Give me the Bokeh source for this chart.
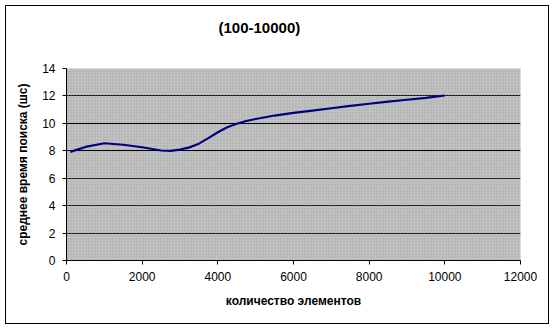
from bokeh.plotting import figure
from bokeh.models import Range1d, FixedTicker, BoxAnnotation, Title, InlineStyleSheet
from bokeh.embed import file_html
from bokeh.resources import INLINE

# data
elements = [100, 500, 1000, 1500, 2000, 2500, 2750, 3000, 3250, 3500, 3750, 4000,
            4250, 4500, 4750, 5000, 5500, 6000, 6500, 7000, 7500, 8000, 8500,
            9000, 9500, 10000]
avg_time = [7.92, 8.28, 8.55, 8.44, 8.26, 8.02, 8.0, 8.08, 8.25, 8.52, 8.92, 9.35,
            9.72, 9.97, 10.17, 10.32, 10.57, 10.76, 10.93, 11.1, 11.27, 11.43, 11.58,
            11.72, 11.86, 12.03]
x_ticks = [0, 2000, 4000, 6000, 8000, 10000, 12000]
y_ticks = [0, 2, 4, 6, 8, 10, 12, 14]
grid_ticks = [2, 4, 6, 8, 10, 12]
title_text = "(100-10000)"

FONT = "Liberation Sans"

p = figure(width=555, height=330, output_backend="svg", toolbar_location=None,
           x_range=Range1d(0, 12000), y_range=Range1d(0, 14),
           min_border_left=66, min_border_right=35, min_border_top=68, min_border_bottom=70)
# outer chart border drawn as an overlay box 5px inside the figure edge
p.stylesheets = [InlineStyleSheet(css=(
    ":host::after { content: ''; position: absolute; left: 5px; top: 5px; "
    "width: 544px; height: 319px; box-sizing: border-box; border: 1px solid black; "
    "pointer-events: none; z-index: 1000; }"))]

p.background_fill_color = "#c2c2c2"
p.border_fill_color = "white"
p.outline_line_color = None

# dotted pattern of the plot area
p.add_layout(BoxAnnotation(fill_alpha=0, line_alpha=0, hatch_pattern="dot",
                           hatch_color="#9a9a9a", hatch_scale=3, hatch_alpha=0.8,
                           level="underlay"))

# spacer between the frame and the title
p.add_layout(Title(text=" ", text_font_size="28px", standoff=0), "above")
t = Title(text=title_text, align="left", offset=152,
          text_font=FONT, text_font_size="15px", text_font_style="bold",
          text_color="black", standoff=0)
p.add_layout(t, "above")

p.line(elements, avg_time, line_color="#000080", line_width=2.2)

p.xgrid.grid_line_color = None
p.ygrid.ticker = FixedTicker(ticks=grid_ticks)
p.ygrid.grid_line_color = "black"
p.ygrid.grid_line_width = 1

for ax in (p.xaxis[0], p.yaxis[0]):
    ax.axis_line_color = "black"
    ax.major_tick_line_color = "black"
    ax.major_tick_out = 4
    ax.major_tick_in = 0
    ax.minor_tick_line_color = None
    ax.major_label_text_font = FONT
    ax.major_label_text_font_size = "12px"
    ax.major_label_text_color = "black"
    ax.axis_label_text_font = FONT
    ax.axis_label_text_font_size = "12px"
    ax.axis_label_text_font_style = "bold"
    ax.axis_label_text_color = "black"

p.xaxis.ticker = FixedTicker(ticks=x_ticks)
p.yaxis.ticker = FixedTicker(ticks=y_ticks)
p.xaxis.axis_label = "количество элементов"
p.yaxis.axis_label = "среднее время поиска (шс)"
p.xaxis.major_label_standoff = 7
p.yaxis.major_label_standoff = 7
p.xaxis.axis_label_standoff = 10
p.yaxis.axis_label_standoff = 9

open("out.html", "w").write(file_html(p, INLINE))
